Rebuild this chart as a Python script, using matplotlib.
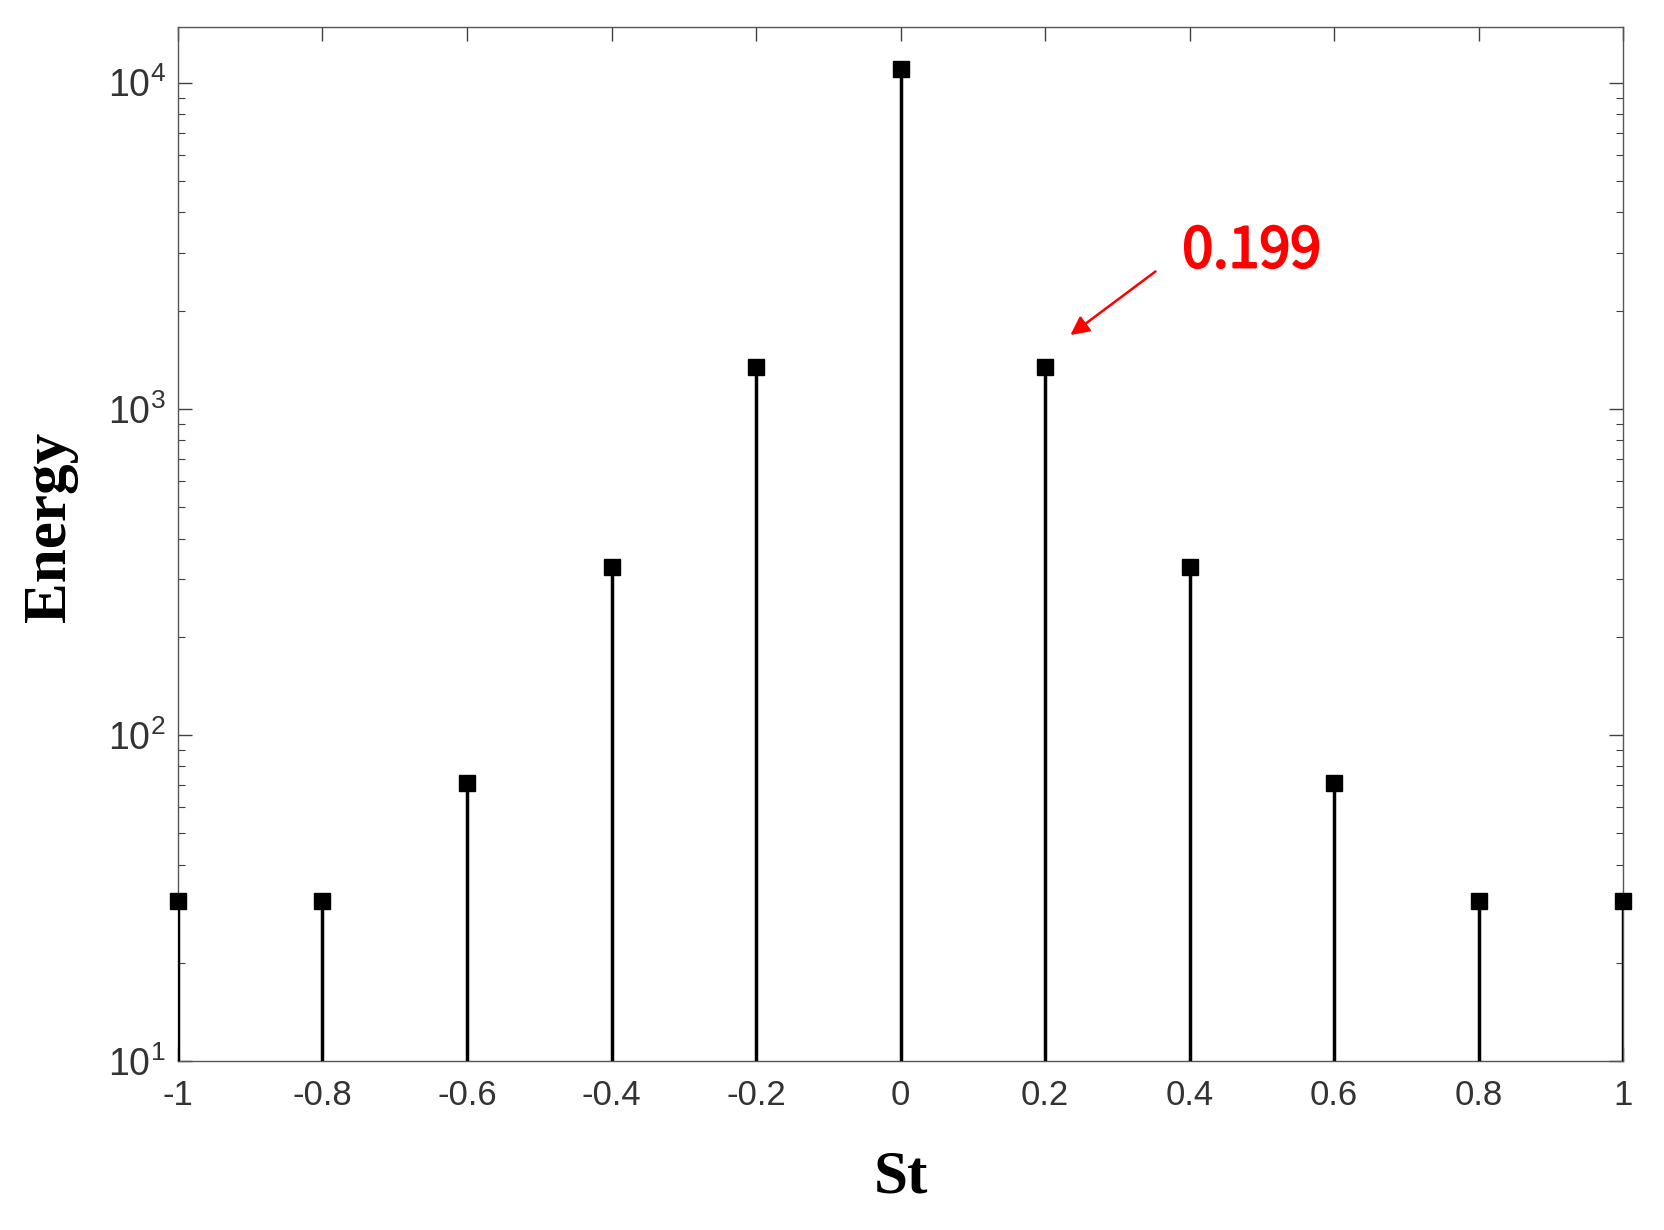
import matplotlib.pyplot as plt
import matplotlib.patheffects as pe
import numpy as np
from matplotlib.ticker import LogLocator, NullFormatter

plt.rcParams['font.family'] = ['Liberation Sans', 'DejaVu Sans']
plt.rcParams['mathtext.fontset'] = 'custom'
plt.rcParams['mathtext.rm'] = 'Liberation Sans'
plt.rcParams['mathtext.it'] = 'Liberation Sans'

# Strouhal numbers and energy of each mode
st = [-1.0, -0.8, -0.6, -0.4, -0.2, 0.0, 0.2, 0.4, 0.6, 0.8, 1.0]
energy = [31, 31, 71, 326, 1340, 11000, 1340, 326, 71, 31, 31]

peak_label = "0.199"

fig = plt.figure(figsize=(16.65, 12.3), dpi=100)
ax = fig.add_axes([0.1069, 0.1374, 0.8679, 0.8406])

ax.set_yscale('log')
ax.set_xlim(-1, 1)
ax.set_ylim(10, 1.48e4)

ax.vlines(st, 10, energy, color='black', linewidth=2.5, zorder=3)
ax.plot(st, energy, 's', color='black', markersize=11, zorder=4, clip_on=False)

ax.set_xticks(np.arange(-1, 1.01, 0.2))
ax.set_xticklabels(['-1', '-0.8', '-0.6', '-0.4', '-0.2', '0', '0.2', '0.4', '0.6', '0.8', '1'])
ax.yaxis.set_major_locator(LogLocator(base=10, numticks=10))
ax.yaxis.set_minor_locator(LogLocator(base=10, subs=np.arange(2, 10), numticks=10))
ax.yaxis.set_minor_formatter(NullFormatter())

ax.tick_params(axis='both', which='both', direction='in', top=True, right=True,
               color='#404040', labelcolor='#333333')
ax.tick_params(axis='both', which='major', length=10, width=1.0)
ax.tick_params(axis='x', which='major', pad=13, labelsize=25)
ax.tick_params(axis='y', which='major', pad=9, labelsize=27)
ax.tick_params(axis='y', which='minor', length=5, width=0.8)
for sp in ax.spines.values():
    sp.set_color('#555555')
    sp.set_linewidth(1.0)

ax.set_xlabel('St', fontsize=44, fontweight='bold', family='Liberation Serif')
ax.xaxis.set_label_coords(0.5, -0.113)
ax.xaxis.label.set_verticalalignment('center')
ax.set_ylabel('Energy', fontsize=44, fontweight='bold', family='Liberation Serif')
ax.yaxis.set_label_coords(-0.0886, 0.517)
ax.yaxis.label.set_verticalalignment('center')

ax.annotate('', xy=(0.232, 1663), xytext=(0.356, 2667),
            arrowprops=dict(arrowstyle='-|>', color='red', lw=1.8, mutation_scale=28))
ax.text(0.39, 3033, peak_label, color='red', fontsize=40,
        va='center', ha='left', family=['Noto Sans CJK SC', 'DejaVu Sans'],
        path_effects=[pe.withStroke(linewidth=1.6, foreground='red')])

fig.savefig('out.png', dpi=100, facecolor='white')
